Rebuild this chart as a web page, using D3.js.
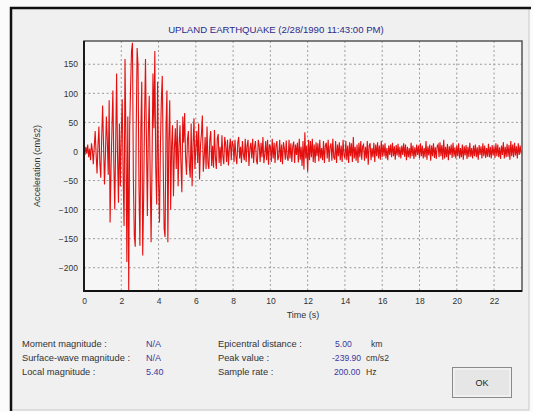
<!DOCTYPE html>
<html><head><meta charset="utf-8">
<script src="https://cdn.jsdelivr.net/npm/d3@7"></script>
<style>body{margin:0;background:#fff}svg{display:block}</style>
</head><body><svg id="c" width="533" height="412"></svg>
<script>
const title = "UPLAND EARTHQUAKE (2/28/1990 11:43:00 PM)";
const sampleStep = 0.05; // s between listed values
const xTicks = [0,2,4,6,8,10,12,14,16,18,20,22];
const yTicks = [-200,-150,-100,-50,0,50,100,150];
const accel = [
 0,-6,8,-4,12,-10,5,-15,14,2,-22,8,35,-5,-38,10,43,-20,-45,25,
 79,10,-57,-5,60,20,-40,88,-122,-30,40,105,-20,-100,15,134,-10,-88,48,-60,
 30,90,-40,-128,159,20,-190,60,-240,40,110,173,187,-50,-145,-164,30,178,147,-60,
 -162,40,120,-179,-80,60,159,20,-111,30,96,-40,-156,-20,134,40,173,-30,-91,120,
 -50,-122,10,88,130,-20,-133,-147,40,105,-156,20,88,-100,10,45,-77,5,40,-30,
 54,-60,10,45,-20,-70,60,15,66,-10,-40,20,35,-25,-45,48,-60,10,57,-30,
 5,35,-20,48,-48,10,30,62,-35,-10,25,-30,43,-20,-30,20,35,-25,10,-28,
 37,-10,-30,22,30,-20,8,-25,28,-8,-22,25,12,-18,20,-24,5,22,-15,18,
 12,-18,20,-8,-22,15,25,-12,8,-20,18,-5,-15,22,-18,10,20,-25,5,15,
 -12,22,-20,8,18,-15,-22,20,10,-18,15,-10,25,-20,-5,18,-15,20,-23,12,
 8,-18,22,-12,15,-20,10,18,-15,-8,20,-18,12,-22,16,5,-14,19,-10,-16,
 20,-12,14,-18,9,17,-20,12,-6,15,-19,22,-14,8,-25,18,-31,33,-12,10,
 -35,20,-15,18,-10,22,-18,12,-20,16,-8,14,-17,20,-12,6,-15,18,-20,10,
 15,-12,20,-18,8,14,-16,22,-10,-14,18,-20,12,-8,16,-15,10,-18,20,-6,
 -12,18,-15,10,-20,16,-8,14,-18,25,-12,8,-16,12,-20,15,-10,18,-14,9,
 12,-16,8,-12,18,-23,10,14,-15,6,-10,15,-18,12,-8,16,-12,10,-14,18,
 -10,12,-8,14,-12,6,-15,10,-6,12,-10,15,-8,9,-14,11,-7,13,-10,8,
 -12,10,-6,14,-9,12,-15,8,-10,6,-12,15,-8,10,-13,7,-9,12,-6,10,
 -11,14,-8,10,-12,6,-10,18,-14,9,-7,12,-16,10,-8,14,-11,7,-13,9,
 12,-10,16,-8,11,-14,20,-12,8,-10,13,-15,9,-6,12,-11,15,-9,7,-12,
 10,-8,14,-12,6,-10,12,-14,9,-7,11,-13,8,-10,15,-9,6,-12,10,-8,
 12,-10,7,-14,11,-6,9,-12,14,-8,10,-11,6,-9,13,-10,8,-12,11,-7,
 9,-11,14,-8,12,-10,7,-13,10,-6,16,-12,8,-10,13,-9,11,-14,18,-8,
 12,-10,15,-7,9,-12,14,-6,10,-4
];
const infoLeft = [["Moment magnitude :","N/A"],["Surface-wave magnitude :","N/A"],["Local magnitude :","5.40"]];
const infoRight = [["Epicentral distance :","5.00","km"],["Peak value :","-239.90","cm/s2"],["Sample rate :","200.00","Hz"]];

const svg = d3.select("#c");
const font = "'Liberation Sans', Arial, sans-serif";
// dialog
svg.append("rect").attr("x",0).attr("y",0).attr("width",533).attr("height",412).attr("fill","#fbfbfb");
svg.append("rect").attr("x",11).attr("y",8).attr("width",518).attr("height",402).attr("fill","#f0f0f0").attr("stroke","#c8c8c8").attr("stroke-width",1);
svg.append("path").attr("d","M11,411V8H531").attr("fill","none").attr("stroke","#111").attr("stroke-width",2.5);

const L=84,R=522,T=41,B=291;
const x = d3.scaleLinear().domain([0,23.5]).range([L,R]);
const y = d3.scaleLinear().domain([-240,190]).range([B,T]);

svg.append("rect").attr("x",L).attr("y",T).attr("width",R-L).attr("height",B-T).attr("fill","#f6f6f6");

// grid
const g = svg.append("g");
g.selectAll("line.v").data(xTicks.slice(1)).join("line")
 .attr("x1",d=>x(d)).attr("x2",d=>x(d)).attr("y1",T).attr("y2",B)
 .attr("stroke","#9a9a9a").attr("stroke-dasharray","2,2.5");
g.selectAll("line.h").data(yTicks).join("line")
 .attr("y1",d=>y(d)).attr("y2",d=>y(d)).attr("x1",L).attr("x2",R)
 .attr("stroke","#9a9a9a").attr("stroke-dasharray","2,2.5");

// waveform
svg.append("clipPath").attr("id","cp").append("rect").attr("x",L).attr("y",T).attr("width",R-L).attr("height",B-T);
const line = d3.line().x((d,i)=>x(i*sampleStep)).y(d=>y(d));
svg.append("path").datum(accel).attr("d",line).attr("clip-path","url(#cp)")
 .attr("fill","none").attr("stroke","#e31010").attr("stroke-width",1.1).attr("stroke-linejoin","miter");

// frame
svg.append("rect").attr("x",L).attr("y",T).attr("width",R-L).attr("height",B-T).attr("fill","none").attr("stroke","#555").attr("stroke-width",1.5);
svg.append("path").attr("d",`M${L},${T}V${B}H${R}`).attr("fill","none").attr("stroke","#111").attr("stroke-width",1.8);

// axes
const xa = d3.axisBottom(x).tickValues(xTicks).tickSize(0).tickPadding(7);
const ya = d3.axisLeft(y).tickValues(yTicks).tickSize(0).tickPadding(6);
const gx = svg.append("g").attr("transform",`translate(0,${B})`).call(xa);
const gy = svg.append("g").attr("transform",`translate(${L},0)`).call(ya);
[gx,gy].forEach(a=>{a.select(".domain").remove();a.selectAll("text").attr("font-family",font).attr("font-size",8.5).attr("fill","#333");});

svg.append("text").attr("x",(L+R)/2).attr("y",318).attr("text-anchor","middle").attr("font-family",font).attr("font-size",9).attr("fill","#333").text("Time (s)");
svg.append("text").attr("transform",`translate(40,${(T+B)/2}) rotate(-90)`).attr("text-anchor","middle").attr("font-family",font).attr("font-size",9).attr("fill","#333").text("Acceleration (cm/s2)");
svg.append("text").attr("x",276).attr("y",33).attr("text-anchor","middle").attr("font-family",font).attr("font-size",9.6).attr("fill","#2b2b8c").text(title);

// info
const rowsY=[347,361,375];
infoLeft.forEach((r,i)=>{
 svg.append("text").attr("x",22).attr("y",rowsY[i]).attr("font-family",font).attr("font-size",9.3).attr("fill","#333").text(r[0]);
 svg.append("text").attr("x",146).attr("y",rowsY[i]).attr("font-family",font).attr("font-size",9).attr("fill","#3a3a9c").text(r[1]);
});
infoRight.forEach((r,i)=>{
 svg.append("text").attr("x",218).attr("y",rowsY[i]).attr("font-family",font).attr("font-size",9.3).attr("fill","#333").text(r[0]);
 svg.append("text").attr("x",[335,332,334][i]).attr("y",rowsY[i]).attr("font-family",font).attr("font-size",8.6).attr("fill","#3a3a9c").text(r[1]);
 svg.append("text").attr("x",[371,366,366][i]).attr("y",rowsY[i]).attr("font-family",font).attr("font-size",8.6).attr("fill","#333").text(r[2]);
});
// OK button
svg.append("rect").attr("x",452.5).attr("y",367.5).attr("width",59).attr("height",30).attr("fill","#e6e6e6").attr("stroke","#8a8a8a");
svg.append("rect").attr("x",454).attr("y",369).attr("width",56).attr("height",27).attr("fill","none").attr("stroke","#fafafa");
svg.append("text").attr("x",482).attr("y",386).attr("text-anchor","middle").attr("font-family",font).attr("font-size",9).attr("fill","#222").text("OK");
</script></body></html>
